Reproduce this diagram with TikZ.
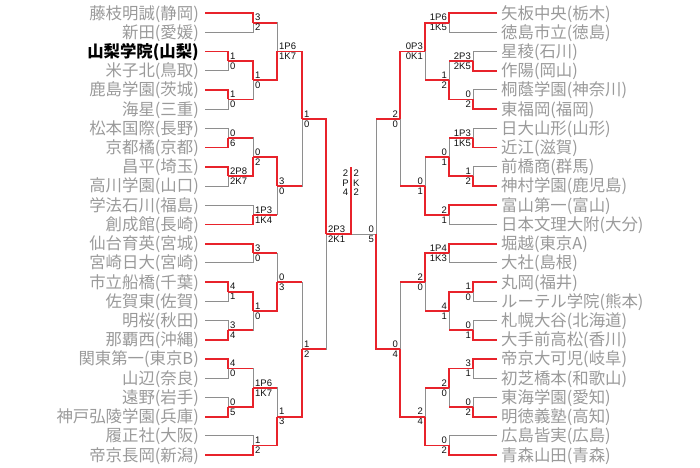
\documentclass[tikz,border=0pt]{standalone}
\usepackage{fontspec}
\setmainfont{Liberation Sans}
\newfontfamily\cjk{Noto Sans CJK JP}
\usepackage{xcolor}
\definecolor{teamgray}{HTML}{9A9A9A}
\definecolor{linegray}{HTML}{8E8E8E}
\definecolor{winred}{HTML}{E8232B}
\definecolor{scoretext}{HTML}{111111}
\tikzset{
  team/.style={font=\cjk\fontsize{16.4}{18}\selectfont, text=teamgray, inner sep=0pt, text height=13pt, text depth=1pt},
  score/.style={font=\fontsize{9.5}{9.5}\selectfont, text=scoretext, inner xsep=2pt, inner ysep=1.5pt},
  loss/.style={draw=linegray, line width=0.9pt},
  win/.style={draw=winred, line width=1.8pt},
}
\newcommand{\champ}[1]{\textcolor{black}{\bfseries #1}}
% game/x/row/top/bottom/winner/next/side/top score/bottom score
\newcommand{\games}{%
a1/253/1.5/l1/l2/l1/a5/west/3/2,
a2/228/3.5/l3/l4/l3/a4/west/1/0,
a3/228/5.5/l5/l6/l5/a4/west/1/0,
a4/253/4.5/a2/a3/a2/a5/west/1/0,
a5/277/3/a1/a4/a4/a11/west/1P6/1K7,
a6/228/7.5/l7/l8/l8/a8/west/0/6,
a7/228/9.5/l9/l10/l9/a8/west/2P8/2K7,
a8/253/8.5/a6/a7/a7/a10/west/0/2,
a9/253/11.5/l11/l12/l12/a10/west/1P3/1K4,
a10/277/10/a8/a9/a8/a11/west/3/0,
a11/302/6.5/a5/a10/a5/a23/west/1/0,
a12/253/13.5/l13/l14/l13/a16/west/3/0,
a13/228/15.5/l15/l16/l15/a15/west/4/1,
a14/228/17.5/l17/l18/l18/a15/west/3/4,
a15/253/16.5/a13/a14/a13/a16/west/1/0,
a16/277/15/a12/a15/a15/a22/west/0/3,
a17/228/19.5/l19/l20/l19/a19/west/4/0,
a18/228/21.5/l21/l22/l22/a19/west/0/5,
a19/253/20.5/a17/a18/a18/a21/west/1P6/1K7,
a20/253/23.5/l23/l24/l24/a21/west/1/2,
a21/277/22/a19/a20/a20/a22/west/1/3,
a22/302/18.5/a16/a21/a21/a23/west/1/2,
a23/326/12.5/a11/a22/a11/fin/west/2P3/2K1,
b1/449/1.5/r1/r2/r1/b5/east/1P6/1K5,
b2/473/3.5/r3/r4/r4/b4/east/2P3/2K5,
b3/473/5.5/r5/r6/r6/b4/east/0/2,
b4/449/4.5/b2/b3/b3/b5/east/1/2,
b5/425/3/b1/b4/b1/b11/east/0P3/0K1,
b6/473/7.5/r7/r8/r8/b8/east/1P3/1K5,
b7/473/9.5/r9/r10/r10/b8/east/1/2,
b8/449/8.5/b6/b7/b7/b10/east/0/1,
b9/449/11.5/r11/r12/r11/b10/east/2/1,
b10/425/10/b8/b9/b9/b11/east/0/1,
b11/400/6.5/b5/b10/b5/b23/east/2/0,
b12/449/13.5/r13/r14/r13/b16/east/1P4/1K3,
b13/473/15.5/r15/r16/r15/b15/east/1/0,
b14/473/17.5/r17/r18/r18/b15/east/0/1,
b15/449/16.5/b13/b14/b13/b16/east/4/1,
b16/425/15/b12/b15/b12/b22/east/2/0,
b17/473/19.5/r19/r20/r19/b19/east/3/1,
b18/473/21.5/r21/r22/r22/b19/east/0/2,
b19/449/20.5/b17/b18/b17/b21/east/2/0,
b20/449/23.5/r23/r24/r24/b21/east/0/2,
b21/425/22/b19/b20/b20/b22/east/2/4,
b22/400/18.5/b16/b21/b21/b23/east/0/4,
b23/376/12.5/b11/b22/b22/b23/east/0/5}

\begin{document}
\begin{tikzpicture}[x=1pt, y=-19.22pt]
\useasboundingbox (0,0.3236) rectangle (700,24.6213);

% teams
\foreach \name [count=\i] in {藤枝明誠(静岡), 新田(愛媛), \champ{山梨学院(山梨)}, 米子北(鳥取),
  鹿島学園(茨城), 海星(三重), 松本国際(長野), 京都橘(京都), 昌平(埼玉), 高川学園(山口),
  学法石川(福島), 創成館(長崎), 仙台育英(宮城), 宮崎日大(宮崎), 市立船橋(千葉), 佐賀東(佐賀),
  明桜(秋田), 那覇西(沖縄), 関東第一(東京B), 山辺(奈良), 遠野(岩手), 神戸弘陵学園(兵庫),
  履正社(大阪), 帝京長岡(新潟)} {
  \node[team, anchor=east] (L\i) at (199,\i) {\name};
  \coordinate (l\i) at ([xshift=6pt]L\i.east);
}
\foreach \name [count=\i] in {矢板中央(栃木), 徳島市立(徳島), 星稜(石川), 作陽(岡山),
  桐蔭学園(神奈川), 東福岡(福岡), 日大山形(山形), 近江(滋賀), 前橋商(群馬), 神村学園(鹿児島),
  富山第一(富山), 日本文理大附(大分), 堀越(東京A), 大社(島根), 丸岡(福井), ルーテル学院(熊本),
  札幌大谷(北海道), 大手前高松(香川), 帝京大可児(岐阜), 初芝橋本(和歌山), 東海学園(愛知),
  明徳義塾(高知), 広島皆実(広島), 青森山田(青森)} {
  \node[team, anchor=west] (R\i) at (501,\i) {\name};
  \coordinate (r\i) at ([xshift=-4pt]R\i.west);
}

% games
\foreach \g/\gx/\gy/\ga/\gb/\gw/\gn/\gs/\sa/\sb in \games
  \coordinate (\g) at (\gx,\gy);
\coordinate (fin) at (351,9);

\foreach \g/\gx/\gy/\ga/\gb/\gw/\gn/\gs/\sa/\sb in \games
  \draw[loss] (\ga) -| (\g) (\gb) -| (\g);
\draw[loss] (b23) -| (fin);

\foreach \g/\gx/\gy/\ga/\gb/\gw/\gn/\gs/\sa/\sb in \games {
  \draw[win] (\gw) -| (\g);
  \draw[win] (\g) -- (\g -| \gn);
  \node[score, anchor=south \gs] (\g-top) at (\g) {\sa};
  \node[score, anchor=north \gs] (\g-bot) at (\g) {\sb};
}
\draw[win] (a23) -| (fin);

% final
\node[score, align=center, anchor=north east, yshift=-1.5pt] (fin-l) at (fin) {2\\P\\4};
\node[score, align=center, anchor=north west, yshift=-1.5pt] (fin-r) at (fin) {2\\K\\2};
\end{tikzpicture}
\end{document}
